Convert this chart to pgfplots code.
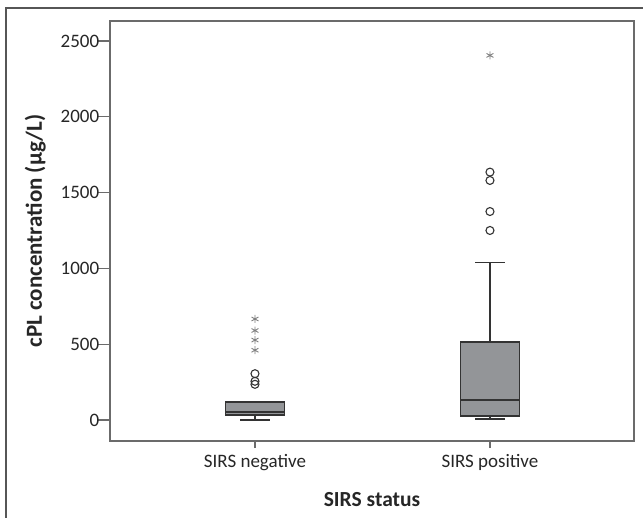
\documentclass[border=0pt]{standalone}
\usepackage{pgfplots}
\pgfplotsset{compat=1.18}
\usepackage{fontspec}
\setmainfont{Carlito}
\definecolor{boxfill}{HTML}{939598}
\definecolor{boxedge}{HTML}{333333}
\definecolor{axgray}{HTML}{6B6B6B}
\definecolor{astgray}{HTML}{808080}
\begin{document}
\begin{tikzpicture}
\useasboundingbox (-110bp,-77bp) rectangle (533bp,441bp);
\draw[axgray!80!black, line width=1.2bp] (-104bp,-77bp) -- (-104bp,433bp) -- (533bp,433bp);
\begin{axis}[
  at={(0,0)}, anchor=south west,
  width=524bp, height=420bp, scale only axis,
  xmin=0.383, xmax=2.613,
  ymin=-139, ymax=2632,
  xtick={1,2}, xticklabels={SIRS negative, SIRS positive},
  ytick={0,500,1000,1500,2000,2500},
  xtick pos=bottom, ytick pos=left,
  tick align=outside,
  xtick style={/pgfplots/major tick length=7bp, axgray, line width=1.2bp},
  ytick style={/pgfplots/major tick length=13bp, axgray, line width=1.2bp},
  axis line style={axgray, line width=1.6bp},
  /pgf/number format/assume math mode=true,
  /pgf/number format/1000 sep={},
  ticklabel style={font=\fontsize{19bp}{22bp}\selectfont, text=black!85},
  xticklabel style={yshift=-6bp},
  yticklabel style={xshift=-3bp},
  xlabel={\textbf{SIRS status}},
  ylabel={\textbf{cPL concentration (µg/L)}},
  label style={text=black!85},
  xlabel style={font=\fontsize{21.5bp}{25bp}\selectfont, yshift=-14bp},
  ylabel style={font=\fontsize{23bp}{27bp}\selectfont, yshift=8bp},
  clip=false,
]
% SIRS negative: whiskers 0 / 119, quartiles 33 / 119, median 53
\addplot[boxedge, line width=1.5bp] coordinates {(1,33) (1,0)};
\addplot[boxedge, line width=1.5bp] coordinates {(0.9375,0) (1.0625,0)};
\addplot[fill=boxfill, draw=boxedge, line width=1.5bp] coordinates {(0.875,33) (1.125,33) (1.125,119) (0.875,119)} -- cycle;
\addplot[boxedge, line width=1.5bp] coordinates {(0.875,53) (1.125,53)};
% SIRS positive: whiskers 5 / 1038, quartiles 26 / 515, median 132
\addplot[boxedge, line width=1.5bp] coordinates {(2,515) (2,1038)};
\addplot[boxedge, line width=1.5bp] coordinates {(1.9375,1038) (2.0625,1038)};
\addplot[boxedge, line width=1.5bp] coordinates {(2,26) (2,5)};
\addplot[boxedge, line width=1.5bp] coordinates {(1.9375,5) (2.0625,5)};
\addplot[fill=boxfill, draw=boxedge, line width=1.5bp] coordinates {(1.875,26) (2.125,26) (2.125,515) (1.875,515)} -- cycle;
\addplot[boxedge, line width=1.5bp] coordinates {(1.875,132) (2.125,132)};
% outliers
\addplot[only marks, mark=o, mark size=4bp, draw=boxedge, line width=1.1bp]
  coordinates {(1,305) (1,255) (1,235) (2,1635) (2,1580) (2,1375) (2,1250)};
\addplot[only marks, mark=asterisk, mark size=4bp, draw=astgray, line width=0.9bp]
  coordinates {(1,666) (1,590) (1,527) (1,460) (2,2405)};
\end{axis}
\end{tikzpicture}
\end{document}
